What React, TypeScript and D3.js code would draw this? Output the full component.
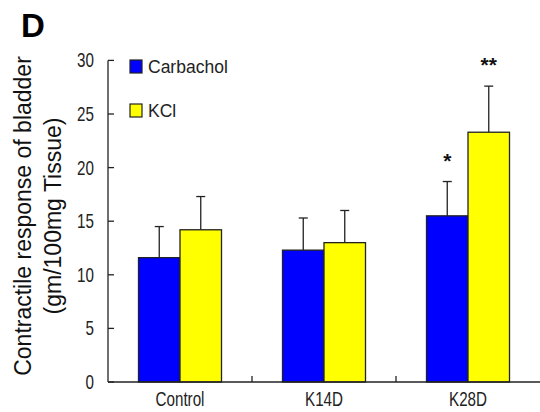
import { useEffect, useRef } from 'react'
import * as d3 from 'd3'

const groups = ['Control', 'K14D', 'K28D']
const series = ['Carbachol', 'KCl']
const colors = ['#0000ff', '#ffff00']
const carbachol = [11.6, 12.3, 15.5]
const carbacholErr = [2.9, 3.0, 3.2]
const kcl = [14.2, 13.0, 23.3]
const kclErr = [3.1, 3.0, 4.3]
const stars = [['', ''], ['', ''], ['*', '**']]
const yTicks = [0, 5, 10, 15, 20, 25, 30]

const W = 540
const H = 412
const sans = '"Liberation Sans", Arial, sans-serif'

export default function App() {
  const ref = useRef<SVGSVGElement>(null)

  useEffect(() => {
    if (!ref.current) return
    const svg = d3.select(ref.current)
    svg.selectAll('*').remove()

    const left = 108, right = 540, top = 60.4, bottom = 382
    const x = d3.scaleBand<string>().domain(groups).range([left, right]).paddingInner(0).paddingOuter(0)
    const xs = d3.scaleBand<string>().domain(series).range([0, 83]).padding(0)
    const y = d3.scaleLinear().domain([0, 30]).range([bottom, top])
    const offset = (x.bandwidth() - 83) / 2

    const vals = [carbachol, kcl]
    const errs = [carbacholErr, kclErr]

    // narrow text helper
    const narrowText = (tx: number, ty: number, anchor: string, s: string) =>
      svg.append('text')
        .attr('transform', `translate(${tx},${ty}) scale(0.76,1)`)
        .attr('text-anchor', anchor)
        .attr('font-family', sans).attr('font-size', 20)
        .attr('fill', '#222')
        .text(s)

    // bars
    series.forEach((s, si) => {
      groups.forEach((g, gi) => {
        const bx = x(g)! + offset + xs(s)!
        const v = vals[si][gi]
        const cx = bx + xs.bandwidth() / 2
        const ey = y(v + errs[si][gi])
        // error bar
        svg.append('line')
          .attr('x1', cx).attr('x2', cx).attr('y1', y(v)).attr('y2', ey)
          .attr('stroke', '#222').attr('stroke-width', 1.3)
        svg.append('line')
          .attr('x1', cx - 4.5).attr('x2', cx + 4.5).attr('y1', ey).attr('y2', ey)
          .attr('stroke', '#222').attr('stroke-width', 1.3)
        svg.append('rect')
          .attr('x', bx).attr('y', y(v))
          .attr('width', xs.bandwidth()).attr('height', y(0) - y(v))
          .attr('fill', colors[si]).attr('stroke', '#222').attr('stroke-width', 1.3)
        const st = stars[gi][si]
        if (st) {
          svg.append('text')
            .attr('x', cx).attr('y', ey - 14)
            .attr('text-anchor', 'middle')
            .attr('font-family', sans).attr('font-size', 21).attr('font-weight', 'bold')
            .attr('fill', '#111')
            .text(st)
        }
      })
    })

    // y axis
    svg.append('line')
      .attr('x1', left).attr('x2', left).attr('y1', top).attr('y2', bottom)
      .attr('stroke', '#222').attr('stroke-width', 1.3)
    yTicks.forEach(t => {
      svg.append('line')
        .attr('x1', left).attr('x2', left + 6).attr('y1', y(t)).attr('y2', y(t))
        .attr('stroke', '#222').attr('stroke-width', 1.3)
      narrowText(left - 14, y(t) + 7, 'end', String(t))
    })

    // x axis
    svg.append('line')
      .attr('x1', left).attr('x2', right).attr('y1', bottom).attr('y2', bottom)
      .attr('stroke', '#222').attr('stroke-width', 1.3)
    groups.forEach((g, gi) => {
      if (gi > 0) {
        svg.append('line')
          .attr('x1', x(g)!).attr('x2', x(g)!).attr('y1', bottom).attr('y2', bottom - 6)
          .attr('stroke', '#222').attr('stroke-width', 1.3)
      }
      narrowText(x(g)! + x.bandwidth() / 2, 406, 'middle', g)
    })

    // legend
    series.forEach((s, si) => {
      const ly = 60 + si * 44
      svg.append('rect')
        .attr('x', 130).attr('y', ly).attr('width', 12).attr('height', 13)
        .attr('fill', colors[si]).attr('stroke', '#222').attr('stroke-width', 1.2)
      svg.append('text')
        .attr('x', 148).attr('y', ly + 13)
        .attr('font-family', sans).attr('font-size', 17.5)
        .attr('fill', '#222')
        .text(s)
    })

    // y title
    const tg = svg.append('g').attr('transform', 'translate(0,216) rotate(-90)')
    tg.append('text')
      .attr('x', 0).attr('y', 31)
      .attr('text-anchor', 'middle')
      .attr('font-family', sans).attr('font-size', 23)
      .attr('fill', '#111')
      .text('Contractile response of bladder')
    tg.append('text')
      .attr('x', 0).attr('y', 61)
      .attr('text-anchor', 'middle')
      .attr('font-family', sans).attr('font-size', 23)
      .attr('fill', '#111')
      .text('(gm/100mg Tissue)')

    // panel letter
    svg.append('text')
      .attr('x', 21).attr('y', 37)
      .attr('font-family', sans).attr('font-size', 33).attr('font-weight', 'bold')
      .attr('fill', '#000')
      .text('D')
  }, [])

  return (
    <svg
      ref={ref}
      width={W}
      height={H}
      style={{ position: 'absolute', left: 0, top: 0, background: '#fff' }}
    />
  )
}
